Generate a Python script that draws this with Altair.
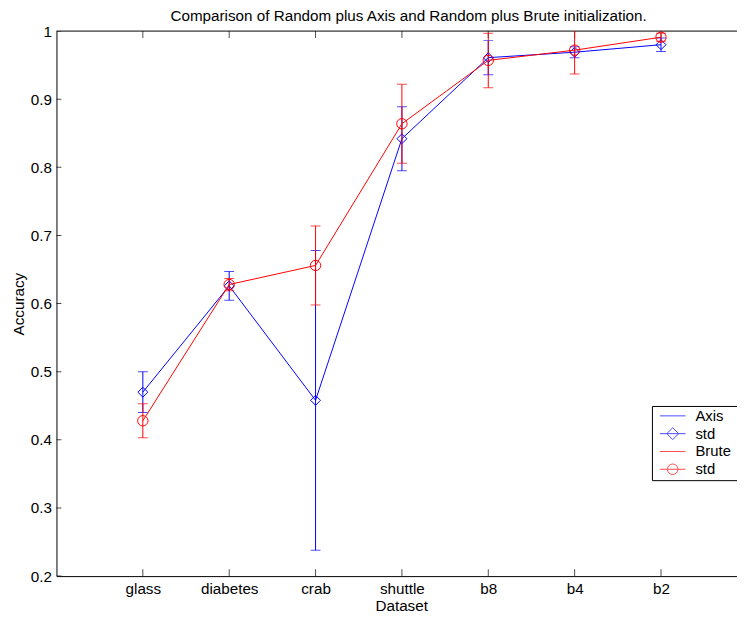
import altair as alt
import pandas as pd

# ---------------- data ----------------
datasets = ["glass", "diabetes", "crab", "shuttle", "b8", "b4", "b2"]
axis_mean = [0.470, 0.626, 0.458, 0.842, 0.961, 0.969, 0.980]
axis_std = [0.030, 0.021, 0.220, 0.047, 0.025, 0.008, 0.010]
brute_mean = [0.428, 0.628, 0.656, 0.864, 0.957, 0.972, 0.991]
brute_std = [0.025, 0.009, 0.058, 0.058, 0.040, 0.035, 0.006]
y_ticks = [0.2, 0.3, 0.4, 0.5, 0.6, 0.7, 0.8, 0.9, 1.0]
legend_keys = ["Axis", "std_axis", "Brute", "std_brute"]
legend_labels = ["Axis", "std", "Brute", "std"]
title_text = "Comparison of Random plus Axis and Random plus Brute initialization."
x_title = "Dataset"
y_title = "Accuracy"

BLUE = "#0000ff"
RED = "#ff0000"
X_MIN, X_MAX = 0.0, 7.88
Y_MIN, Y_MAX = 0.2, 1.0
FONT = "Liberation Sans"
FS = 15.4

pos = list(range(1, len(datasets) + 1))
df = pd.DataFrame({
    "pos": pos,
    "dataset": datasets,
    "axis_mean": axis_mean,
    "axis_lo": [m - s for m, s in zip(axis_mean, axis_std)],
    "axis_hi": [m + s for m, s in zip(axis_mean, axis_std)],
    "brute_mean": brute_mean,
    "brute_lo": [m - s for m, s in zip(brute_mean, brute_std)],
    "brute_hi": [m + s for m, s in zip(brute_mean, brute_std)],
})

ytick_df = pd.DataFrame({"pos": [X_MIN] * len(y_ticks), "y": y_ticks})
xtick_df = pd.DataFrame({
    "pos": pos + pos,
    "y": [Y_MIN] * len(pos) + [Y_MAX] * len(pos),
})
top_df = pd.DataFrame({"y": [Y_MAX]})
legend_df = pd.DataFrame({"key": legend_keys, "label": legend_labels})

# ---------------- scales / axes ----------------
x_scale = alt.Scale(domain=[X_MIN, X_MAX], nice=False, zero=False)
y_scale = alt.Scale(domain=[Y_MIN, Y_MAX], nice=False, zero=False)

label_expr = "[" + ",".join(f"'{d}'" for d in datasets) + "][round(datum.value)-1]"

x_axis = alt.Axis(
    values=pos, labelExpr=label_expr, title=x_title, ticks=False, tickSize=0,
    labelPadding=6, labelFontSize=FS, labelFont=FONT, labelColor="black",
    labelAngle=0, labelFlush=False, labelOverlap=False,
    titleFontSize=FS, titleFont=FONT, titleFontWeight="normal", titleColor="black",
    titleX=348.5, titleY=35, titleBaseline="alphabetic", titleAlign="center",
    domainColor="black", domainWidth=1, grid=False,
)
y_axis = alt.Axis(
    values=y_ticks, format=".1~f", title=y_title, ticks=False, tickSize=0,
    labelPadding=5, labelFontSize=FS, labelFont=FONT, labelColor="black",
    labelFlush=False, labelOverlap=False,
    titleFontSize=FS, titleFont=FONT, titleFontWeight="normal", titleColor="black",
    titleAngle=270, titleX=-33, titleY=275.5, titleBaseline="alphabetic",
    titleAlign="center", domainColor="black", domainWidth=1, grid=False,
)


def X(field):
    return alt.X(f"{field}:Q", scale=x_scale, axis=x_axis)


def Y(field):
    return alt.Y(f"{field}:Q", scale=y_scale, axis=y_axis)


base = alt.Chart(df)

layers = []
for prefix, color, shape, size in [("axis", BLUE, "diamond", 100), ("brute", RED, "circle", 110)]:
    layers.append(base.mark_rule(color=color, strokeWidth=1, clip=True).encode(
        x=X("pos"), y=Y(f"{prefix}_lo"), y2=f"{prefix}_hi:Q"))
    for end in ("lo", "hi"):
        layers.append(base.mark_tick(color=color, orient="horizontal", size=10,
                                     thickness=1, clip=True).encode(
            x=X("pos"), y=Y(f"{prefix}_{end}")))
    layers.append(base.mark_line(color=color, strokeWidth=1).encode(
        x=X("pos"), y=Y(f"{prefix}_mean")))
    layers.append(base.mark_point(shape=shape, filled=False, color=color, size=size,
                                  strokeWidth=1, opacity=1).encode(
        x=X("pos"), y=Y(f"{prefix}_mean")))

# inward-pointing axis ticks (half clipped by the frame)
ytick_layer = alt.Chart(ytick_df).mark_tick(
    color="black", orient="horizontal", size=10, thickness=1, clip=True
).encode(x=X("pos"), y=Y("y"))
xtick_layer = alt.Chart(xtick_df).mark_tick(
    color="black", orient="vertical", size=14, thickness=1, clip=True
).encode(x=X("pos"), y=Y("y"))
top_rule = alt.Chart(top_df).mark_rule(color="black", strokeWidth=1).encode(y=Y("y"))

# legend symbols (size 225 -> 7.5 px per path unit; line 26 px long, drawn
# 11 px right of the symbol anchor). Trailing move-to points set the entry's
# bounding box only (no ink).
bbox = "M0,-0.933M9.967,0.933"
line_seg = "M-0.267,0L3.2,0"
line_path = line_seg + bbox
diamond_path = line_seg + "M1.467,-0.8L2.267,0L1.467,0.8L0.667,0Z" + bbox
circle_path = (line_seg + "M0.757,0A0.71,0.71,0,1,0,2.177,0"
               "A0.71,0.71,0,1,0,0.757,0Z" + bbox)
legend_label_expr = "{" + ",".join(
    f"'{k}':'{l}'" for k, l in zip(legend_keys, legend_labels)) + "}[datum.label]"

legend = alt.Legend(
    title=None, orient="none", legendX=602, legendY=379,
    strokeColor="black", fillColor="white", padding=2, cornerRadius=0,
    labelFontSize=15, labelFont=FONT, labelColor="black", labelExpr=legend_label_expr,
    symbolStrokeWidth=1, symbolSize=225, labelOffset=26, rowPadding=0,
)
legend_layer = alt.Chart(legend_df).transform_filter("false").mark_point(
    filled=False, size=225, strokeWidth=1
).encode(
    color=alt.Color("key:N", scale=alt.Scale(domain=legend_keys,
                                             range=[BLUE, BLUE, RED, RED]), legend=legend),
    shape=alt.Shape("key:N", scale=alt.Scale(domain=legend_keys,
                                             range=[line_path, diamond_path, line_path, circle_path]),
                    legend=legend),
)

chart = alt.layer(
    top_rule, ytick_layer, xtick_layer, *layers, legend_layer
).properties(
    width=688,
    height=551,
    title=alt.TitleParams(text=title_text, fontSize=FS, font=FONT, fontWeight="normal",
                          anchor="middle", baseline="alphabetic", offset=4, dx=12, dy=16.5,
                          color="black"),
    autosize=alt.AutoSizeParams(type="none"),
    padding={"left": 49, "top": 20, "right": 0, "bottom": 38},
).configure(font=FONT).configure_view(strokeWidth=0)

chart.save("out.html", embed_options={"renderer": "svg", "actions": False})
